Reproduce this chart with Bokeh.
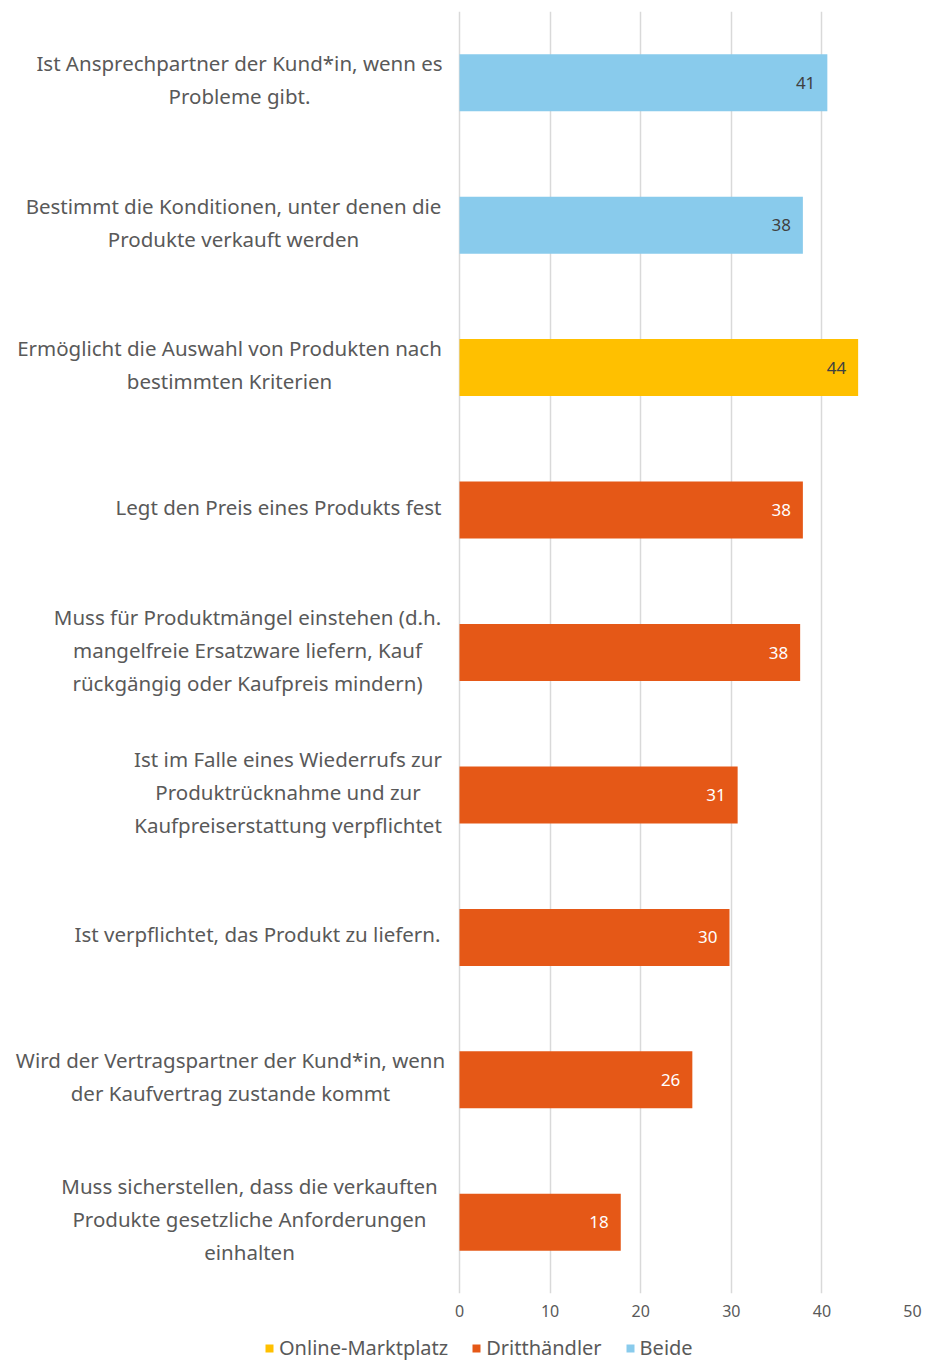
from bokeh.plotting import figure
from bokeh.layouts import column
from bokeh.models import (ColumnDataSource, FactorRange, LabelSet, Legend, LegendItem,
                          FixedTicker, Range1d)
from bokeh.core.properties import value
from bokeh.embed import file_html
from bokeh.resources import INLINE

# ---- data ----
categories = [
    "Ist Ansprechpartner der Kund*in, wenn es Probleme gibt.",
    "Bestimmt die Konditionen, unter denen die Produkte verkauft werden",
    "Ermöglicht die Auswahl von Produkten nach bestimmten Kriterien",
    "Legt den Preis eines Produkts fest",
    "Muss für Produktmängel einstehen (d.h. mangelfreie Ersatzware liefern, Kauf rückgängig oder Kaufpreis mindern)",
    "Ist im Falle eines Wiederrufs zur Produktrücknahme und zur Kaufpreiserstattung verpflichtet",
    "Ist verpflichtet, das Produkt zu liefern.",
    "Wird der Vertragspartner der Kund*in, wenn der Kaufvertrag zustande kommt",
    "Muss sicherstellen, dass die verkauften Produkte gesetzliche Anforderungen einhalten",
]
category_lines = [
    ["Ist Ansprechpartner der Kund*in, wenn es", "Probleme gibt."],
    ["Bestimmt die Konditionen, unter denen die", "Produkte verkauft werden"],
    ["Ermöglicht die Auswahl von Produkten nach", "bestimmten Kriterien"],
    ["Legt den Preis eines Produkts fest"],
    ["Muss für Produktmängel einstehen (d.h.", "mangelfreie Ersatzware liefern, Kauf", "rückgängig oder Kaufpreis mindern)"],
    ["Ist im Falle eines Wiederrufs zur", "Produktrücknahme und zur", "Kaufpreiserstattung verpflichtet"],
    ["Ist verpflichtet, das Produkt zu liefern."],
    ["Wird der Vertragspartner der Kund*in, wenn", "der Kaufvertrag zustande kommt"],
    ["Muss sicherstellen, dass die verkauften", "Produkte gesetzliche Anforderungen", "einhalten"],
]
values = [40.6, 37.9, 44.0, 37.9, 37.6, 30.7, 29.8, 25.7, 17.8]
groups = ["Beide", "Beide", "Online-Marktplatz", "Dritthändler", "Dritthändler",
          "Dritthändler", "Dritthändler", "Dritthändler", "Dritthändler"]
legend_order = ["Online-Marktplatz", "Dritthändler", "Beide"]
x_ticks = [0, 10, 20, 30, 40, 50]
x_max = 50

# ---- styles / layout ----
group_colors = {"Online-Marktplatz": "#FFC000", "Dritthändler": "#E55817", "Beide": "#89CBEC"}
label_colors = {"Online-Marktplatz": "#404040", "Dritthändler": "#FFFFFF", "Beide": "#404040"}
block_widths = [406, 418, 426, 328, 390, 309, 370, 424, 386]  # px width of each label block
FONT = "Noto Sans"
TEXT = "#595959"
LINE_H = 33
W = 925
H_MAIN, H_LEG = 1326, 34
AXIS_X = 459          # pixel position of the value 0
FRAME_RIGHT = 912     # pixel position of x_max
FRAME_TOP, FRAME_BOTTOM = 11, 1293
ppu = (FRAME_RIGHT - AXIS_X) / x_max

src = ColumnDataSource(dict(
    cat=categories, val=values, grp=groups,
    color=[group_colors[g] for g in groups],
    tcolor=[label_colors[g] for g in groups],
    txt=[str(int(round(v))) for v in values],
))

p = figure(width=W, height=H_MAIN, output_backend="svg", toolbar_location=None,
           y_range=FactorRange(factors=list(reversed(categories)), range_padding=0),
           x_range=Range1d(-AXIS_X / ppu, x_max),
           min_border_left=0, min_border_right=W - FRAME_RIGHT,
           min_border_top=FRAME_TOP, min_border_bottom=H_MAIN - FRAME_BOTTOM)
p.outline_line_color = None
p.background_fill_color = "white"
p.border_fill_color = "white"

bars = p.hbar(y="cat", right="val", left=0, height=0.4, source=src,
              fill_color="color", line_color=None)

p.yaxis.visible = False
p.ygrid.grid_line_color = None
p.xgrid.grid_line_color = "#D9D9D9"
p.xgrid.grid_line_width = 1.5
p.xgrid.ticker = FixedTicker(ticks=x_ticks)
p.xaxis.ticker = FixedTicker(ticks=x_ticks)
p.xaxis.axis_line_color = None
p.xaxis.major_tick_line_color = None
p.xaxis.minor_tick_line_color = None
p.xaxis.major_label_text_font = FONT
p.xaxis.major_label_text_font_size = "16px"
p.xaxis.major_label_text_color = TEXT
p.xaxis.major_label_standoff = 5

# data labels
p.add_layout(LabelSet(x="val", y="cat", text="txt", source=src, x_offset=-12,
                      text_align="right", text_baseline="middle",
                      text_color="tcolor", text_font=value(FONT), text_font_size="17px"))

# category labels (centered lines, block right-aligned near the axis)
ly, lt, lxo, lyo = [], [], [], []
for cat, lines, w in zip(categories, category_lines, block_widths):
    n = len(lines)
    for k, line in enumerate(lines):
        ly.append(cat)
        lt.append(line)
        lxo.append(-(17 + w / 2))
        lyo.append(((n - 1) / 2 - k) * LINE_H + 3)
lsrc = ColumnDataSource(dict(y=ly, x=[0] * len(ly), text=lt, xo=lxo, yo=lyo))
p.add_layout(LabelSet(x="x", y="y", text="text", source=lsrc, x_offset="xo", y_offset="yo",
                      text_align="center", text_baseline="middle",
                      text_color=TEXT, text_font=value(FONT), text_font_size="20.5px"))

# legend in a strip below the chart (swatch renderers sit outside the visible range)
pl = figure(width=W, height=H_LEG, output_backend="svg", toolbar_location=None,
            x_range=Range1d(0, 1), y_range=Range1d(0, 1),
            min_border_left=0, min_border_right=0, min_border_top=0, min_border_bottom=0)
pl.axis.visible = False
pl.grid.visible = False
pl.outline_line_color = None
items = []
for g in legend_order:
    r = pl.hbar(y=[-5], left=[0], right=[1], height=0.4,
                fill_color=group_colors[g], line_color=None)
    items.append(LegendItem(label=g, renderers=[r]))
legend = Legend(items=items, orientation="horizontal", location=(264, -1),
                glyph_width=10, glyph_height=10, label_standoff=5, spacing=23,
                padding=0, margin=0, border_line_color=None, background_fill_alpha=0,
                label_text_font=FONT, label_text_font_size="20px", label_text_color=TEXT,
                label_height=20)
pl.add_layout(legend, "center")

layout = column(p, pl, spacing=0)
open("out.html", "w").write(file_html(layout, INLINE))
